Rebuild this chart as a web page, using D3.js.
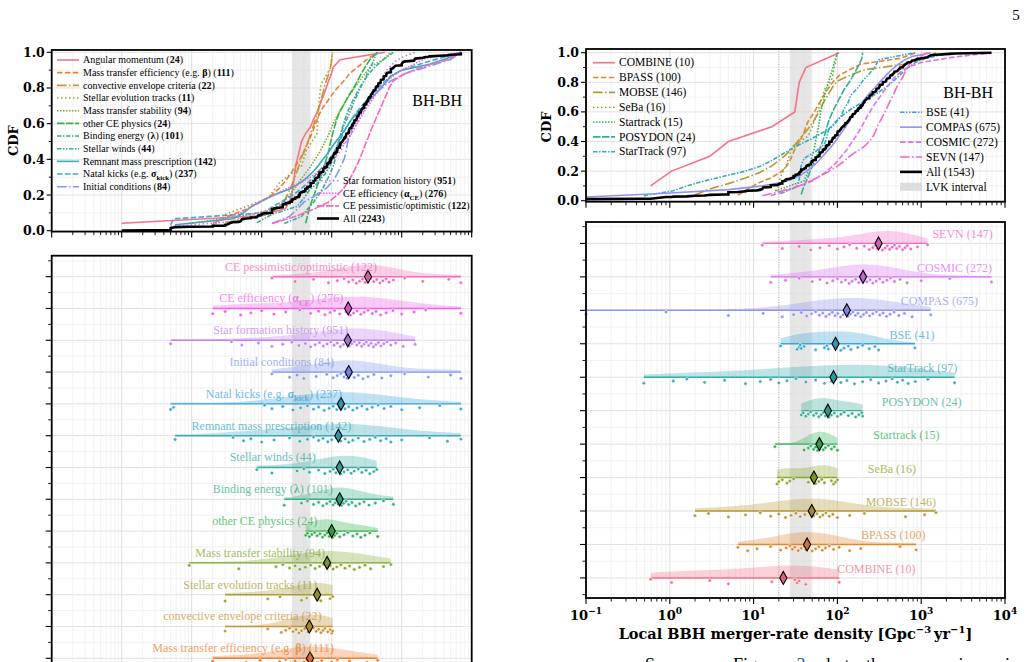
<!DOCTYPE html>
<html>
<head>
<meta charset="utf-8">
<script src="https://cdn.jsdelivr.net/npm/d3@7"></script>
<style>
body { margin: 0; background: #fff; }
svg { display: block; font-family: "Liberation Serif", "DejaVu Serif", serif; }
.bold { font-family: "DejaVu Serif", serif; font-weight: bold; }
</style>
</head>
<body>
<svg id="page" width="1028" height="662"></svg>
<script>
// ---------------- data (rates in Gpc^-3 yr^-1) ----------------
// left panel: grouped by physics variation (legend order, bottom row of the raincloud first)
var physNames = ["Angular momentum", "Mass transfer efficiency (e.g. *β*)", "convective envelope criteria",
  "Stellar evolution tracks", "Mass transfer stability", "other CE physics", "Binding energy (*λ*)",
  "Stellar winds", "Remnant mass prescription", "Natal kicks (e.g. *σ*~kick~)", "Initial conditions",
  "Star formation history", "CE efficiency (*α*~CE~)", "CE pessimistic/optimistic"];
var physCounts = [24, 111, 22, 11, 94, 24, 101, 44, 142, 237, 84, 951, 276, 122];
var physRates = [
  [0.1, 9.5, 22, 25, 27, 28, 29, 30, 31, 33, 35, 37, 42, 50, 55, 62, 68, 75, 82, 89, 98, 105, 132, 575],
  [2.0, 3.2, 6, 9.5, 14, 18, 22, 26, 30, 35, 40, 44, 49, 54, 59, 64, 72, 85, 100, 120, 150, 180, 240, 320, 454],
  [3.0, 12.2, 19, 22, 25, 28, 31, 34, 37, 41, 46, 50, 55, 60, 65, 70, 75, 80, 88, 95, 100, 103],
  [3.0, 12.2, 18.3, 37, 44, 62, 64, 66, 70, 95, 103],
  [0.92, 4.7, 16, 20, 25, 30, 35, 42, 50, 58, 67, 76, 86, 95, 105, 118, 135, 155, 180, 210, 250, 300, 360, 550, 700],
  [42.5, 45, 48, 52, 57, 62, 68, 74, 80, 86, 92, 97, 103, 110, 118, 130, 150, 170, 200, 230, 260, 300, 350, 454],
  [21, 37, 45, 55, 65, 75, 85, 95, 105, 112, 118, 124, 130, 138, 148, 160, 175, 195, 220, 250, 290, 340, 420, 550, 760],
  [8.5, 14, 32, 40, 48, 65, 80, 95, 105, 115, 125, 135, 150, 170, 190, 210, 240, 270, 310, 350, 400, 440],
  [0.58, 3.9, 5.5, 7, 10, 15, 25, 35, 45, 55, 65, 75, 88, 100, 115, 135, 155, 175, 200, 240, 290, 350, 420, 500, 600, 700, 1000, 2500, 4500, 7000],
  [0.5, 0.55, 11, 14, 20, 28, 36, 45, 55, 65, 78, 92, 105, 118, 130, 141, 155, 175, 200, 230, 270, 320, 380, 460, 560, 700, 1000, 1800, 3500, 7000],
  [14, 25, 32, 40, 60, 85, 105, 120, 135, 150, 160, 166, 175, 190, 210, 240, 280, 330, 400, 520, 700, 1100, 2400, 5000, 7000],
  [0.5, 3.7, 5.2, 9, 14, 20, 27, 34, 42, 50, 58, 67, 76, 86, 97, 108, 120, 133, 147, 162, 178, 194, 211, 229, 248, 268, 290, 313, 338, 365, 395, 428, 465, 505, 555, 615, 700, 820, 1050, 1550],
  [2.0, 3.0, 5, 7, 10, 15, 22, 35, 50, 65, 80, 95, 110, 130, 160, 185, 205, 230, 260, 290, 330, 380, 430, 500, 600, 750, 1000, 1500, 2200, 7000],
  [14, 30, 55, 90, 120, 150, 175, 200, 225, 250, 275, 300, 330, 360, 400, 440, 490, 540, 600, 660, 760, 1100, 2000, 4700, 7000]
];

// right panel: grouped by population-synthesis code
var codeNames = ["COMBINE", "BPASS", "MOBSE", "SeBa", "Startrack", "POSYDON", "StarTrack", "BSE", "COMPAS", "COSMIC", "SEVN"];
var codeCounts = [10, 100, 146, 16, 15, 24, 97, 41, 675, 272, 147];
var codeRates = [
  [0.59, 1.05, 3.0, 5.0, 16.5, 31, 33, 35, 42, 105],
  [6.5, 8.5, 11, 16, 21, 24.5, 27, 29, 31, 34, 37, 40, 42, 45, 50, 55, 60, 66, 72, 80, 90, 105, 140, 190, 560, 870],
  [2.0, 2.9, 5.0, 8, 12, 16, 20, 24, 28, 32, 36, 41, 47, 52, 57, 62, 67, 73, 80, 88, 100, 140, 210, 650, 1100, 1500],
  [19, 20, 22, 25, 27, 30, 45, 50, 55, 60, 65, 70, 85, 90, 95, 100],
  [18, 40, 45, 48, 52, 55, 58, 61, 63, 68, 72, 78, 85, 92, 100],
  [37, 39, 42, 45, 48, 52, 56, 60, 64, 68, 72, 75, 79, 85, 92, 100, 110, 120, 135, 150, 165, 180, 195, 200],
  [0.49, 1.1, 1.6, 2.6, 4.5, 8, 12, 16, 20, 25, 32, 42, 55, 70, 85, 95, 110, 130, 160, 200, 250, 310, 380, 450, 520, 600, 700, 850, 1200, 2500],
  [21, 33, 35, 36, 37, 40, 55, 70, 75, 78, 95, 110, 120, 135, 145, 175, 200, 240, 280, 310, 840],
  [0.1, 0.9, 5, 13, 22, 30, 37, 43, 49, 55, 61, 67, 73, 80, 87, 94, 101, 109, 117, 125, 134, 143, 153, 164, 176, 190, 205, 222, 242, 265, 292, 320, 350, 385, 425, 475, 540, 630, 780, 1300],
  [16, 24, 35, 50, 62, 75, 88, 100, 112, 125, 138, 150, 165, 180, 195, 210, 225, 245, 265, 290, 320, 350, 390, 430, 480, 560, 680, 1000, 2200, 6900],
  [12.7, 22, 35, 48, 62, 80, 100, 120, 140, 170, 210, 240, 265, 285, 300, 320, 345, 370, 395, 420, 450, 480, 510, 550, 600, 640, 680, 750, 900, 1190]
];

var lvkInterval = [27, 49];
var refRate = 20;
var cdfTicks = [0, 0.2, 0.4, 0.6, 0.8, 1.0];

// ---------------- helpers ----------------
var svg = d3.select("#page");

// seaborn husl_palette (HSLuv -> sRGB)
var M = [[3.240969941904521, -1.537383177570093, -0.498610760293],
         [-0.96924363628087, 1.87596750150772, 0.041555057407175],
         [0.055630079696993, -0.20397695888897, 1.056971514242878]];
function husl(H, S, L) {
  var sub1 = Math.pow(L + 16, 3) / 1560896, sub2 = sub1 > 0.0088564516 ? sub1 : L / 903.2962962;
  var hr = H / 180 * Math.PI, maxC = Infinity;
  M.forEach(function(m) {
    [0, 1].forEach(function(t) {
      var top1 = (284517 * m[0] - 94839 * m[2]) * sub2;
      var top2 = (838422 * m[2] + 769860 * m[1] + 731718 * m[0]) * L * sub2 - 769860 * t * L;
      var bot = (632260 * m[2] - 126452 * m[1]) * sub2 + 126452 * t;
      var len = (top2 / bot) / (Math.sin(hr) - (top1 / bot) * Math.cos(hr));
      if (len >= 0) maxC = Math.min(maxC, len);
    });
  });
  var C = maxC / 100 * S, U = C * Math.cos(hr), V = C * Math.sin(hr);
  var vu = U / (13 * L) + 0.19783000664283, vv = V / (13 * L) + 0.46831999493879;
  var Y = L <= 8 ? L / 903.2962962 : Math.pow((L + 16) / 116, 3);
  var X = -(9 * Y * vu) / ((vu - 4) * vv - vu * vv);
  var Z = (9 * Y - 15 * vv * Y - vv * X) / (3 * vv);
  var rgb = M.map(function(r) {
    var c = r[0] * X + r[1] * Y + r[2] * Z;
    c = c <= 0.0031308 ? 12.92 * c : 1.055 * Math.pow(c, 1 / 2.4) - 0.055;
    return Math.round(Math.max(0, Math.min(1, c)) * 255);
  });
  return d3.rgb(rgb[0], rgb[1], rgb[2]).formatHex();
}
function huslPalette(n) {
  return d3.range(n).map(function(i) { return husl(((i / n + 0.01) % 1) * 359, 0.9 * 99, 0.65 * 99); });
}

var dashes = [null, "5.5,2.4", "9.6,2.4,1.5,2.4", "1.5,2.5", "1.5,1.5", "7.5,1.5", "4.5,1.5,1.5,1.5", "4.5,1.5,1.5,1.5,1.5,1.5"];

// tiny markup: *x* bold, ~x~ bold subscript
function writeRich(text, s, fs) {
  var shift = 0;
  s.split(/(\*[^*]+\*|~[^~]+~)/).filter(function(p) { return p; }).forEach(function(p) {
    var kind = p[0] === "*" ? "b" : p[0] === "~" ? "sub" : "";
    var t = text.append("tspan").text(kind ? p.slice(1, -1) : p);
    var want = kind === "sub" ? 0.3 * fs : 0;
    if (want !== shift) { t.attr("dy", want - shift); shift = want; }
    if (kind) t.attr("font-weight", "bold");
    if (kind === "sub") t.attr("font-size", 0.68 * fs);
  });
}

function kde(vals) {
  var lv = vals.map(Math.log10);
  var sd = d3.deviation(lv) || 0.1;
  var bw = 1.06 * sd * Math.pow(lv.length, -0.2);
  var lo = d3.min(lv), hi = d3.max(lv);
  return d3.range(101).map(function(i) {
    var g = lo + (hi - lo) * i / 100;
    return [g, d3.sum(lv, function(v) { return Math.exp(-0.5 * Math.pow((g - v) / bw, 2)); })];
  });
}

// ---------------- one panel: CDF on top, raincloud below ----------------
function drawPanel(p) {
  var n = p.names.length;
  var colors = huslPalette(n);
  var g = svg.append("g");
  var x = d3.scaleLog().domain(p.xDomain).range(p.xRange);
  var yc = d3.scaleLinear().domain([0, 1]).range(p.cdfY);
  var yr = d3.scaleLinear().domain([-p.padTop, n - 1 + p.padBot]).range(p.rainY);
  var e0 = Math.round(Math.log10(p.xDomain[0])), e1 = Math.round(Math.log10(p.xDomain[1]));
  var decades = d3.range(e0, e1 + 1).map(function(e) { return Math.pow(10, e); });
  var minors = [];
  decades.slice(0, -1).forEach(function(d) { for (var k = 2; k < 10; k++) minors.push(d * k); });
  var x0 = p.xRange[0], x1 = p.xRange[1];
  var cTop = yc(p.cdfTop), cBot = yc(p.cdfBot);
  var rTop = p.rainY[0], rBot = p.rainY[1];
  var rowY = function(i) { return yr(n - 1 - i); };

  function vgrid(gg, y0, y1) {
    gg.selectAll(null).data(minors).join("line")
      .attr("x1", x).attr("x2", x).attr("y1", y0).attr("y2", y1)
      .attr("stroke", "#efefef").attr("stroke-width", 0.8);
    gg.selectAll(null).data(decades).join("line")
      .attr("x1", x).attr("x2", x).attr("y1", y0).attr("y2", y1)
      .attr("stroke", "#dcdcdc").attr("stroke-width", 0.9);
  }
  function band(gg, y0, y1) {
    gg.append("rect").attr("x", x(lvkInterval[0])).attr("width", x(lvkInterval[1]) - x(lvkInterval[0]))
      .attr("y", y0).attr("height", y1 - y0).attr("fill", "#d6d6d6").attr("opacity", 0.6);
    if (p.refLine) {
      gg.append("line").attr("x1", x(refRate)).attr("x2", x(refRate)).attr("y1", y0).attr("y2", y1)
        .attr("stroke", "#999").attr("stroke-width", 0.8).attr("stroke-dasharray", "1,1.5");
    }
  }
  function xticks(gg, y, labels) {
    gg.selectAll(null).data(minors).join("line")
      .attr("x1", x).attr("x2", x).attr("y1", y).attr("y2", y + 3.5).attr("stroke", "#000").attr("stroke-width", 0.9);
    gg.selectAll(null).data(decades).join("line")
      .attr("x1", x).attr("x2", x).attr("y1", y).attr("y2", y + 6).attr("stroke", "#000").attr("stroke-width", 1.1);
    if (!labels) return;
    decades.forEach(function(d) {
      var t = gg.append("text").attr("class", "bold").attr("x", x(d)).attr("y", y + 22)
        .attr("text-anchor", "middle").attr("font-size", 13);
      t.append("tspan").text("10");
      t.append("tspan").attr("dy", -6).attr("font-size", 9).text(String(Math.log10(d).toFixed(0)).replace("-", "\u2212"));
    });
  }

  // ---- CDF ----
  var gc = g.append("g");
  var hMinor = d3.range(0.1, 1.0, 0.2);
  gc.selectAll(null).data(hMinor).join("line")
    .attr("x1", x0).attr("x2", x1).attr("y1", yc).attr("y2", yc).attr("stroke", "#efefef").attr("stroke-width", 0.8);
  gc.selectAll(null).data(cdfTicks).join("line")
    .attr("x1", x0).attr("x2", x1).attr("y1", yc).attr("y2", yc).attr("stroke", "#dcdcdc").attr("stroke-width", 0.9);
  vgrid(gc, cTop, cBot);
  band(gc, cTop, cBot);

  var clipId = "clip" + p.id;
  svg.append("clipPath").attr("id", clipId).append("rect")
    .attr("x", x0).attr("y", cTop).attr("width", x1 - x0).attr("height", cBot - cTop);
  var lines = gc.append("g").attr("clip-path", "url(#" + clipId + ")");
  var line = d3.line().x(function(d) { return x(d[0]); }).y(function(d) { return yc(d[1]); });

  p.rates.forEach(function(vals, i) {
    var s = vals.slice().sort(d3.ascending);
    var pts = s.map(function(v, j) { return [v, (j + 1) / s.length]; });
    lines.append("path").attr("d", line(pts)).attr("fill", "none")
      .attr("stroke", colors[i]).attr("stroke-width", 1.6)
      .attr("stroke-dasharray", dashes[i % 8]);
  });
  // "All": every group weighted by its number of simulations
  var pooled = [];
  p.rates.forEach(function(vals, i) {
    vals.forEach(function(v) { pooled.push([v, p.counts[i] / vals.length]); });
  });
  pooled.sort(function(a, b) { return a[0] - b[0]; });
  var tot = d3.sum(pooled, function(d) { return d[1]; }), acc = 0;
  var allPts = pooled.map(function(d) { acc += d[1]; return [d[0], acc / tot]; });
  lines.append("path").attr("d", line(allPts)).attr("fill", "none")
    .attr("stroke", "#000").attr("stroke-width", 2.6);

  // CDF axes
  gc.append("rect").attr("x", x0).attr("y", cTop).attr("width", x1 - x0).attr("height", cBot - cTop)
    .attr("fill", "none").attr("stroke", "#000").attr("stroke-width", 1.8);
  xticks(gc, cBot, false);
  gc.selectAll(null).data(hMinor).join("line")
    .attr("x1", x0 - 3).attr("x2", x0).attr("y1", yc).attr("y2", yc).attr("stroke", "#000").attr("stroke-width", 0.9);
  gc.selectAll(null).data(cdfTicks).join("line")
    .attr("x1", x0 - 5).attr("x2", x0).attr("y1", yc).attr("y2", yc).attr("stroke", "#000").attr("stroke-width", 1.1);
  gc.selectAll(null).data(cdfTicks).join("text").attr("class", "bold")
    .attr("x", x0 - 7).attr("y", yc).attr("dy", "0.36em").attr("text-anchor", "end").attr("font-size", 12.5)
    .text(function(d) { return d.toFixed(1); });
  gc.append("text").attr("class", "bold").attr("font-size", 13).attr("text-anchor", "middle")
    .attr("transform", "translate(" + p.cdfLabel[0] + "," + p.cdfLabel[1] + ") rotate(-90)")
    .attr("dy", "0.35em").text("CDF");
  gc.append("text").attr("x", p.tag[0]).attr("y", p.tag[1]).attr("text-anchor", "end")
    .attr("font-size", 16).text("BH-BH");

  // legends
  function legend(items, lx, ly, dy, fs) {
    items.forEach(function(it, j) {
      var yy = ly + j * dy;
      if (it.patch) {
        gc.append("rect").attr("x", lx).attr("y", yy - 4).attr("width", 22).attr("height", 8)
          .attr("fill", "#d6d6d6").attr("opacity", 0.8);
      } else {
        gc.append("line").attr("x1", lx).attr("x2", lx + 22).attr("y1", yy).attr("y2", yy)
          .attr("stroke", it.color).attr("stroke-width", it.width || 1.6).attr("stroke-dasharray", it.dash);
      }
      var t = gc.append("text").attr("x", lx + 26).attr("y", yy).attr("dy", "0.33em").attr("font-size", fs);
      writeRich(t, it.label, fs);
    });
  }
  var countTxt = function(c) { return p.boldCounts ? "(*" + c + "*)" : "(" + c + ")"; };
  var items = p.names.map(function(nm, i) {
    return { label: nm + " " + countTxt(p.counts[i]), color: colors[i], dash: dashes[i % 8] };
  });
  items.push({ label: "All " + countTxt(d3.sum(p.counts)), color: "#000", width: 2.6 });
  if (p.refLine) items.push({ label: "LVK interval", patch: true });
  legend(items.slice(0, p.split), p.legA[0], p.legA[1], p.legA[2], p.legA[3]);
  legend(items.slice(p.split), p.legB[0], p.legB[1], p.legB[2], p.legB[3]);

  // ---- raincloud ----
  var gr = g.append("g");
  var rowsMaj = d3.range(n), rowsMin = d3.range(-0.5, n, 1);
  gr.selectAll(null).data(rowsMin).join("line")
    .attr("x1", x0).attr("x2", x1).attr("y1", yr).attr("y2", yr).attr("stroke", "#efefef").attr("stroke-width", 0.8);
  gr.selectAll(null).data(rowsMaj).join("line")
    .attr("x1", x0).attr("x2", x1).attr("y1", yr).attr("y2", yr).attr("stroke", "#dcdcdc").attr("stroke-width", 0.9);
  vgrid(gr, rTop, rBot);
  band(gr, rTop, rBot);

  var step = yr(1) - yr(0), vh = 0.37 * step;
  p.rates.forEach(function(vals, i) {
    var c = colors[i], y0 = rowY(i);
    var dens = kde(vals), dmax = d3.max(dens, function(d) { return d[1]; });
    var area = d3.area().x(function(d) { return x(Math.pow(10, d[0])); })
      .y0(y0).y1(function(d) { return y0 - vh * d[1] / dmax; });
    gr.append("path").attr("d", area(dens)).attr("fill", c).attr("opacity", 0.33);
    var ext = d3.extent(vals);
    gr.append("line").attr("x1", x(ext[0])).attr("x2", x(ext[1])).attr("y1", y0).attr("y2", y0)
      .attr("stroke", c).attr("stroke-width", 1.4);
    gr.selectAll(null).data(vals).join("circle")
      .attr("cx", function(v) { return x(v); })
      .attr("cy", function(v, j) { return y0 + 1.2 + 5.5 * ((j * 0.618034 + i * 0.31) % 1); })
      .attr("r", 1.7).attr("fill", c).attr("stroke", "#fff").attr("stroke-width", 0.5);
    var med = Math.pow(10, d3.median(vals.map(Math.log10)));
    gr.append("path").attr("d", "M0,-6.5L3.6,0L0,6.5L-3.6,0Z")
      .attr("transform", "translate(" + x(med) + "," + y0 + ")")
      .attr("fill", d3.color(c).darker(0.35)).attr("stroke", "#000").attr("stroke-width", 1.1);
    var lx = x(med * Math.pow(10, p.labelShift));
    var t = gr.append("text").attr("x", lx).attr("y", y0 + p.labelDy).attr("text-anchor", p.labelAnchor)
      .attr("font-size", p.labelFs).attr("fill", c).attr("opacity", 0.75);
    writeRich(t, p.names[i] + " (" + p.counts[i] + ")", p.labelFs);
  });

  gr.append("rect").attr("x", x0).attr("y", rTop).attr("width", x1 - x0).attr("height", rBot - rTop)
    .attr("fill", "none").attr("stroke", "#000").attr("stroke-width", 1.8);
  gr.selectAll(null).data(rowsMin).join("line")
    .attr("x1", x0 - 3.5).attr("x2", x0).attr("y1", yr).attr("y2", yr).attr("stroke", "#000").attr("stroke-width", 0.9);
  gr.selectAll(null).data(rowsMaj).join("line")
    .attr("x1", x0 - 6).attr("x2", x0).attr("y1", yr).attr("y2", yr).attr("stroke", "#000").attr("stroke-width", 1.1);
  xticks(gr, rBot, p.xLabel);
  if (p.xLabel) {
    var xl = gr.append("text").attr("class", "bold").attr("x", (x0 + x1) / 2).attr("y", rBot + 41)
      .attr("text-anchor", "middle").attr("font-size", 14.5);
    xl.append("tspan").text("Local BBH merger-rate density [Gpc");
    xl.append("tspan").attr("dy", -6).attr("font-size", 10).text("\u22123");
    xl.append("tspan").attr("dy", 6).text("\u2009yr");
    xl.append("tspan").attr("dy", -6).attr("font-size", 10).text("\u22121");
    xl.append("tspan").attr("dy", 6).text("]");
  }
}

drawPanel({
  id: "L", names: physNames, counts: physCounts, rates: physRates,
  xDomain: [1e-2, 1e4], xRange: [51.7, 471.7],
  cdfY: [230.7, 52.3], cdfTop: 1.013, cdfBot: -0.005,
  rainY: [255.7, 709.8], padTop: 0.66, padBot: 0.62,
  split: 11, legA: [57, 60, 12.67, 10], legB: [317, 180.7, 12.6, 10],
  tag: [462, 106], cdfLabel: [13, 140.7], boldCounts: true, refLine: false,
  labelShift: -0.957, labelAnchor: "middle", labelDy: -6, labelFs: 12, xLabel: false
});
drawPanel({
  id: "R", names: codeNames, counts: codeCounts, rates: codeRates,
  xDomain: [1e-1, 1e4], xRange: [586, 1005],
  cdfY: [200.7, 52.7], cdfTop: 1.025, cdfBot: -0.007,
  rainY: [222, 598], padTop: 0.64, padBot: 0.6,
  split: 7, legA: [593, 62.7, 14.83, 11.5], legB: [900, 112.3, 14.9, 11.5],
  tag: [993, 97.5], cdfLabel: [546, 127], boldCounts: false, refLine: true,
  labelShift: 0.643, labelAnchor: "start", labelDy: -5, labelFs: 12, xLabel: true
});

// page furniture
svg.append("text").attr("x", 1016).attr("y", 20).attr("text-anchor", "middle").attr("font-size", 15).text("5");
var cap = svg.append("text").attr("x", 645).attr("y", 671).attr("font-size", 18).attr("word-spacing", 12);
cap.append("tspan").text("Same as Figure ");
cap.append("tspan").attr("fill", "#2b5fb3").text("3");
cap.append("tspan").text(", but the comparison is plotted by");
</script>
</body>
</html>
